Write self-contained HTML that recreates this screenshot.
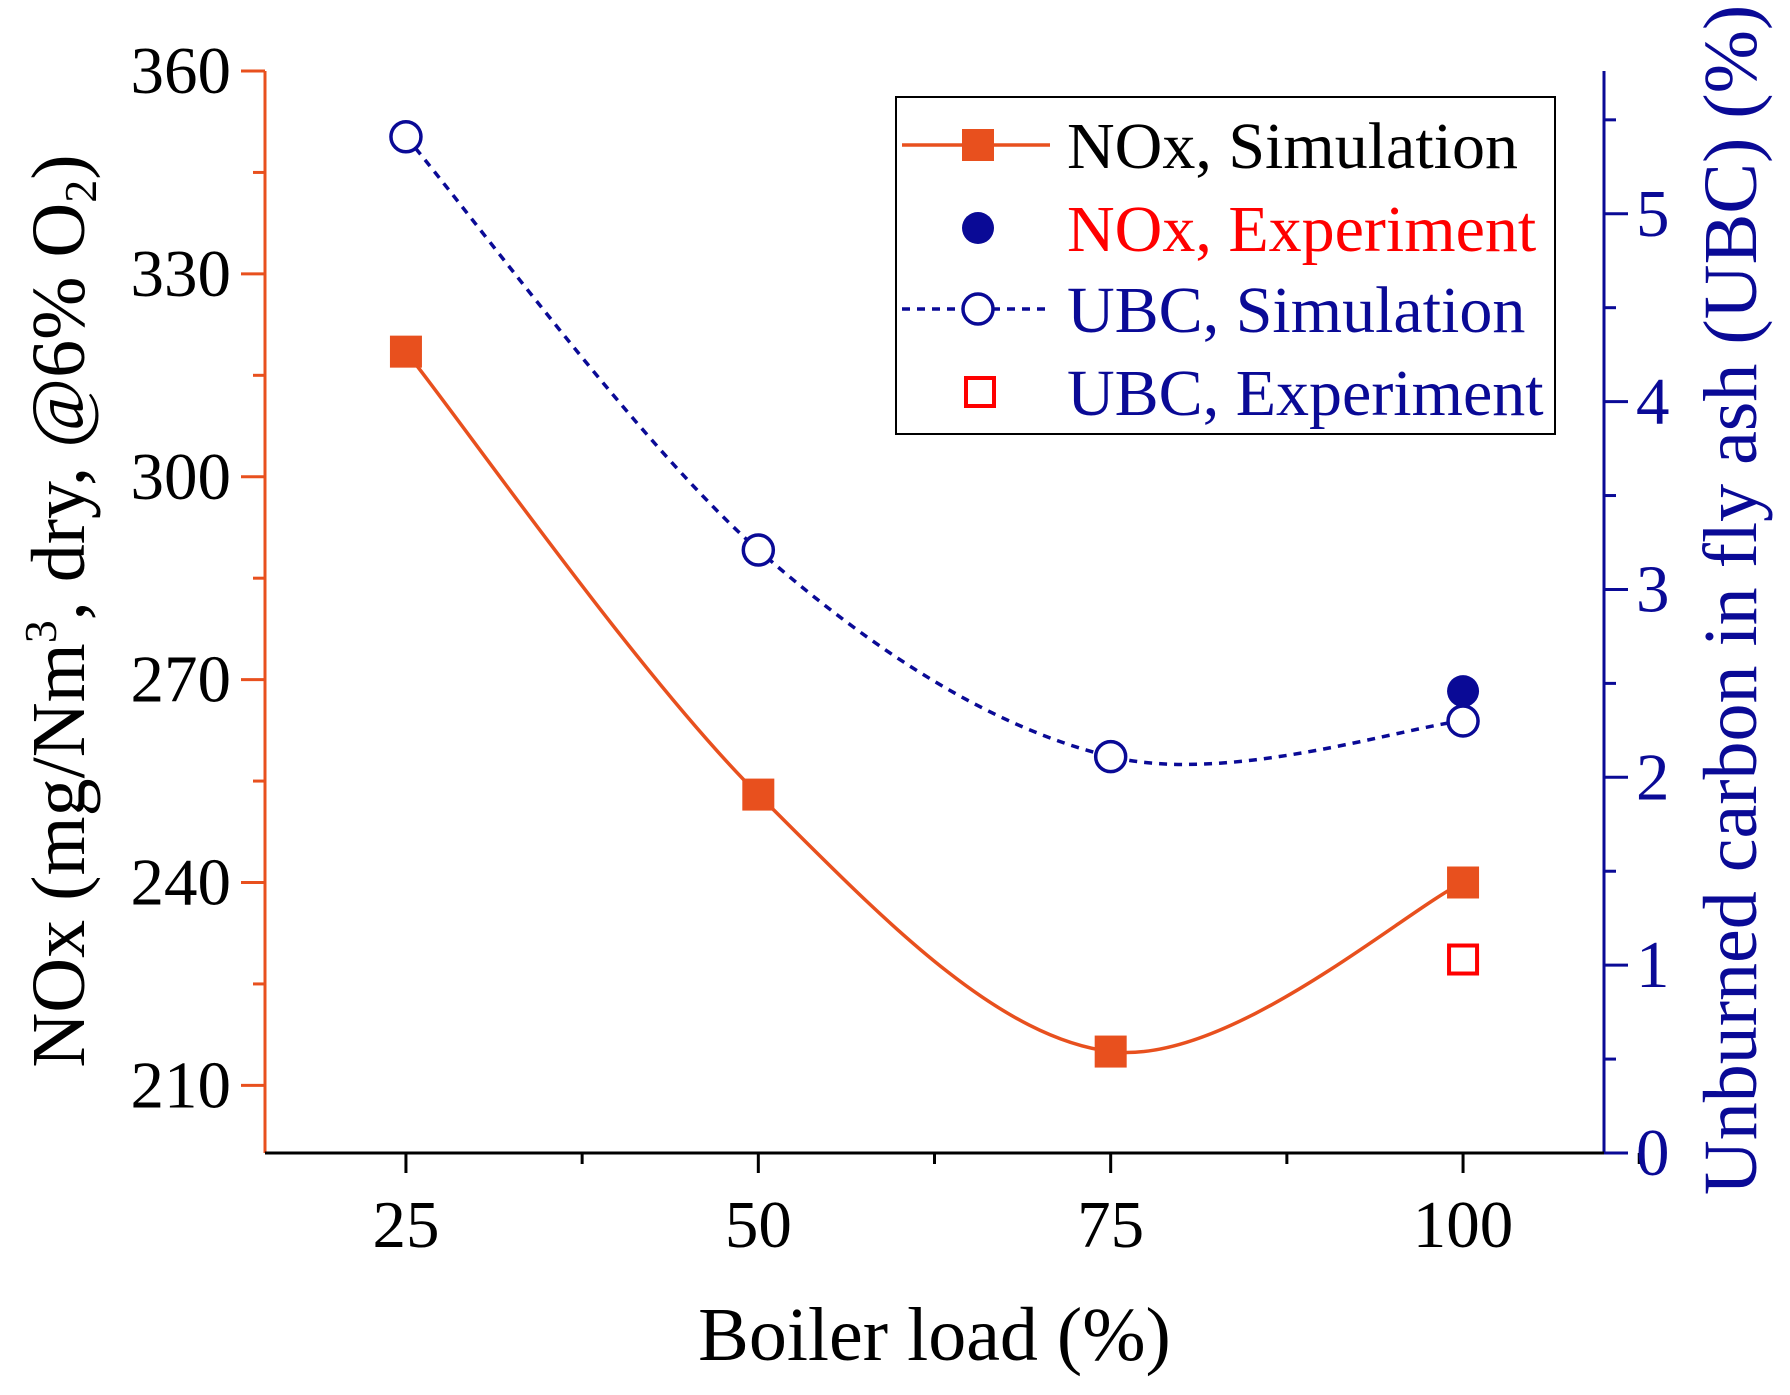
<!DOCTYPE html>
<html><head><meta charset="utf-8"><style>
html,body{margin:0;padding:0;background:#fff}
svg{display:block}
text{font-family:"Liberation Serif",serif}
</style></head><body>
<svg id="chart" width="1790" height="1395" viewBox="0 0 1790 1395" xmlns="http://www.w3.org/2000/svg">
<g id="g"></g>
</svg>
<script>
const loads=[25,50,75,100];
const noxSim=[318.5,253,215,240];
const noxExpLoad=[100];
const noxExp=[268.3];
const ubcSim=[5.41,3.21,2.11,2.30];
const ubcExpLoad=[100];
const ubcExp=[1.03];
const xTicks=[25,50,75,100];
const yLeftTicks=[210,240,270,300,330,360];
const yRightTicks=[0,1,2,3,4,5];

const L=265,R=1604,T=71,B=1153;
const sx=v=>L+(v-15)/(110-15)*(R-L);
const syL=v=>B-(v-200)/(360-200)*(B-T);
const syR=v=>B-v/5.76*(B-T);
const ORANGE="#e8501e",BLUE="#0a0a96",RED="#ff0000";
const NS="http://www.w3.org/2000/svg";
const g=document.getElementById('g');
function el(t,a,p){const e=document.createElementNS(NS,t);for(const k in a)e.setAttribute(k,a[k]);(p||g).appendChild(e);return e;}
function spline(pts){let d=`M${pts[0][0]},${pts[0][1]}`;for(let i=0;i<pts.length-1;i++){const p0=pts[i-1]||pts[i],p1=pts[i],p2=pts[i+1],p3=pts[i+2]||p2;const c1=[p1[0]+(p2[0]-p0[0])/6,p1[1]+(p2[1]-p0[1])/6],c2=[p2[0]-(p3[0]-p1[0])/6,p2[1]-(p3[1]-p1[1])/6];d+=` C${c1[0]},${c1[1]} ${c2[0]},${c2[1]} ${p2[0]},${p2[1]}`;}return d;}

let e;
e=el('line',{x1:L,y1:T,x2:L,y2:B,stroke:ORANGE,'stroke-width':3});

e=el('line',{x1:R,y1:T,x2:R,y2:B,stroke:BLUE,'stroke-width':3});

e=el('line',{x1:L,y1:B,x2:R,y2:B,stroke:'#000','stroke-width':3});


xTicks.forEach(v=>{const x=sx(v);
 el('line',{x1:x,y1:B,x2:x,y2:B+20,stroke:'#000','stroke-width':3});
 el('line',{x1:x+(sx(12.5)-sx(0)),y1:B,x2:x+(sx(12.5)-sx(0)),y2:B+11,stroke:'#000','stroke-width':3});
 e=el('text',{x:x,y:B+94,'font-size':67,'text-anchor':'middle',fill:'#000'});e.textContent=v;
 
});
yLeftTicks.forEach(v=>{const y=syL(v);
 el('line',{x1:L-24,y1:y,x2:L,y2:y,stroke:ORANGE,'stroke-width':3});
 const ym=syL(v-15);if(ym<B)el('line',{x1:L-12,y1:ym,x2:L,y2:ym,stroke:ORANGE,'stroke-width':3});
 e=el('text',{x:L-34,y:y+22,'font-size':67,'text-anchor':'end',fill:'#000'});e.textContent=v;
 
});
yRightTicks.forEach(v=>{const y=syR(v);
 el('line',{x1:R,y1:y,x2:R+24,y2:y,stroke:BLUE,'stroke-width':3});
 const ym=syR(v+0.5);el('line',{x1:R,y1:ym,x2:R+12,y2:ym,stroke:BLUE,'stroke-width':3});
 e=el('text',{x:R+32,y:y+22,'font-size':67,'text-anchor':'start',fill:BLUE});e.textContent=v;
 
});

e=el('text',{x:(L+R)/2,y:1360,'font-size':76,'text-anchor':'middle',fill:'#000'});e.textContent='Boiler load (%)';

e=el('text',{transform:'translate(84,611) rotate(-90)','font-size':76,'text-anchor':'middle',fill:'#000'});
e.innerHTML='NOx (mg/Nm<tspan font-size="46" dy="-28">3</tspan><tspan dy="28">, dry, @6% O</tspan><tspan font-size="46" dy="12">2</tspan><tspan dy="-12">)</tspan>';

e=el('text',{transform:'translate(1756,600) rotate(-90)','font-size':76,'text-anchor':'middle',fill:BLUE});e.textContent='Unburned carbon in fly ash (UBC) (%)';


const noxPts=loads.map((v,i)=>[sx(v),syL(noxSim[i])]);
e=el('path',{d:spline(noxPts),fill:'none',stroke:ORANGE,'stroke-width':3.5});

noxPts.forEach(p=>{e=el('rect',{x:p[0]-16,y:p[1]-16,width:32,height:32,fill:ORANGE});
 });
const ubcPts=loads.map((v,i)=>[sx(v),syR(ubcSim[i])]);
e=el('path',{d:spline(ubcPts),fill:'none',stroke:BLUE,'stroke-width':3.5,'stroke-dasharray':'8,7'});

noxExpLoad.forEach((v,i)=>{e=el('circle',{cx:sx(v),cy:syL(noxExp[i]),r:16,fill:BLUE});
 });
ubcPts.forEach(p=>{e=el('circle',{cx:p[0],cy:p[1],r:15,fill:'#fff',stroke:BLUE,'stroke-width':3.5});
 });
ubcExpLoad.forEach((v,i)=>{e=el('rect',{x:sx(v)-14,y:syR(ubcExp[i])-14,width:28,height:28,fill:'none',stroke:RED,'stroke-width':4});
 });

const lg=el('g',{});
el('rect',{x:896,y:97,width:659,height:337,fill:'#fff',stroke:'#000','stroke-width':2},lg);
const ly=[145,228,309,392];
el('line',{x1:902,y1:ly[0],x2:1050,y2:ly[0],stroke:ORANGE,'stroke-width':3.5},lg);
el('rect',{x:962,y:ly[0]-16,width:32,height:32,fill:ORANGE},lg);
el('circle',{cx:978,cy:ly[1],r:16,fill:BLUE},lg);
el('line',{x1:902,y1:ly[2],x2:1050,y2:ly[2],stroke:BLUE,'stroke-width':3.5,'stroke-dasharray':'8,7'},lg);
el('circle',{cx:978,cy:ly[2],r:15,fill:'#fff',stroke:BLUE,'stroke-width':3.5},lg);
el('rect',{x:966,y:ly[3]-14,width:28,height:28,fill:'none',stroke:RED,'stroke-width':4},lg);
const lt=['NOx, Simulation','NOx, Experiment','UBC, Simulation','UBC, Experiment'];
const lc=['#000',RED,BLUE,BLUE];
lt.forEach((t,i)=>{e=el('text',{x:1067,y:ly[i]+23,'font-size':66,fill:lc[i]},lg);e.textContent=t;
 });
</script>
</body></html>
